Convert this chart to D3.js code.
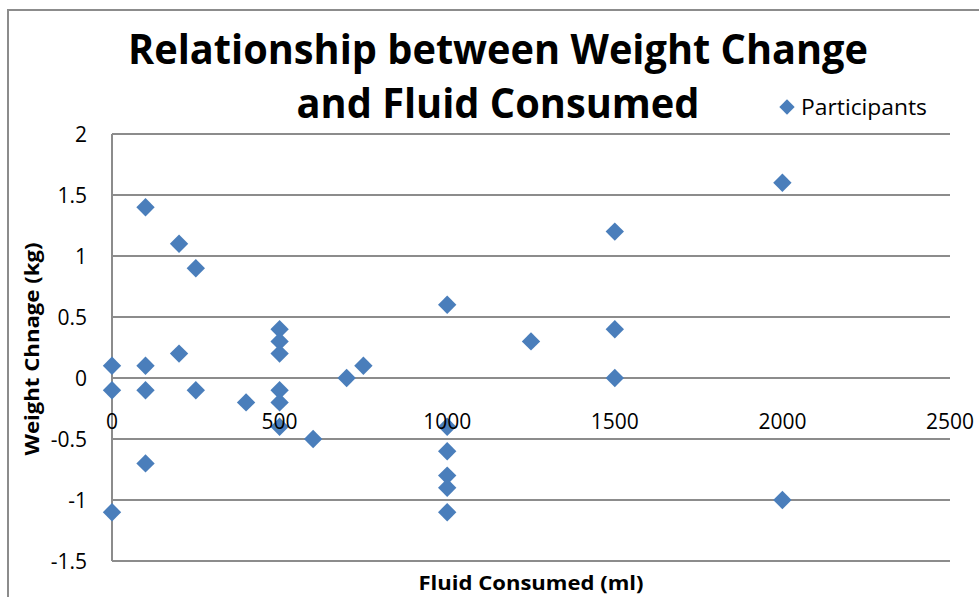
<!DOCTYPE html>
<html><head><meta charset="utf-8">
<script src="https://cdn.jsdelivr.net/npm/d3@7"></script>
<style>html,body{margin:0;padding:0;background:#fff;}svg{display:block;}</style>
</head><body>
<script>
const fluid = [0,0,0, 100,100,100,100, 200,200, 250,250, 400, 500,500,500,500,500,500, 600, 700, 750, 1000,1000,1000,1000,1000,1000, 1250, 1500,1500,1500, 2000,2000];
const weight = [0.1,-0.1,-1.1, 1.4,0.1,-0.1,-0.7, 1.1,0.2, 0.9,-0.1, -0.2, 0.4,0.3,0.2,-0.1,-0.2,-0.4, -0.5, 0, 0.1, 0.6,-0.4,-0.6,-0.8,-0.9,-1.1, 0.3, 1.2,0.4,0, 1.6,-1.0];
const xTicks = [0,500,1000,1500,2000,2500];
const yTicks = [-1.5,-1,-0.5,0,0.5,1,1.5,2];
const seriesName = "Participants";
const titleLines = ["Relationship between Weight Change", "and Fluid Consumed"];
const xTitle = "Fluid Consumed (ml)";
const yTitle = "Weight Chnage (kg)";

const W = 979, H = 597;
const svg = d3.select("body").append("svg").attr("width", W).attr("height", H);
const font = "'Open Sans', sans-serif";
const grid = "#8c8c8c";
const blue = "#4a7ebb";

// chart border
svg.append("rect").attr("x", 8).attr("y", 10).attr("width", W + 20).attr("height", H + 20)
  .attr("fill", "none").attr("stroke", grid).attr("stroke-width", 2);

const x = d3.scaleLinear().domain([0, 2500]).range([112, 950]);
const y = d3.scaleLinear().domain([-1.5, 2]).range([561, 134]);

// gridlines
svg.append("g").selectAll("line").data(yTicks).join("line")
  .attr("x1", x(0)).attr("x2", x(2500))
  .attr("y1", d => y(d)).attr("y2", d => y(d))
  .attr("stroke", grid).attr("stroke-width", 2);

// y axis line
svg.append("line").attr("x1", x(0)).attr("x2", x(0)).attr("y1", y(2)).attr("y2", y(-1.5))
  .attr("stroke", grid).attr("stroke-width", 2);

// points
const diamond = d3.symbol().type(d3.symbolDiamond2).size(215);
svg.append("g").selectAll("path").data(fluid.map((f, i) => [f, weight[i]])).join("path")
  .attr("d", diamond)
  .attr("transform", d => `translate(${x(d[0])},${y(d[1])})`)
  .attr("fill", blue);

// y tick labels
svg.append("g").selectAll("text").data(yTicks).join("text")
  .attr("x", 87).attr("y", d => y(d)).attr("dy", "0.36em")
  .attr("text-anchor", "end").attr("font-family", font).attr("font-size", 21)
  .attr("fill", "#000").text(d => String(d));

// x tick labels (next to axis at y=0)
svg.append("g").selectAll("text").data(xTicks).join("text")
  .attr("x", d => x(d)).attr("y", y(0) + 51)
  .attr("text-anchor", "middle").attr("font-family", font).attr("font-size", 21)
  .attr("fill", "#000").text(d => String(d));

// title
svg.append("g").selectAll("text").data(titleLines).join("text")
  .attr("x", 498).attr("y", (d, i) => 64 + i * 54)
  .attr("text-anchor", "middle").attr("font-family", font).attr("font-weight", "bold")
  .attr("font-size", 41)
  .attr("textLength", (d, i) => i === 0 ? 740 : 403).attr("lengthAdjust", "spacingAndGlyphs")
  .attr("fill", "#000").text(d => d);

// legend
svg.append("path").attr("d", d3.symbol().type(d3.symbolDiamond2).size(150))
  .attr("transform", "translate(787,107)").attr("fill", blue);
svg.append("text").attr("x", 801).attr("y", 115).attr("font-family", font).attr("font-size", 22)
  .attr("textLength", 126).attr("lengthAdjust", "spacingAndGlyphs")
  .attr("fill", "#000").text(seriesName);

// axis titles
svg.append("text").attr("x", 531).attr("y", 590).attr("text-anchor", "middle")
  .attr("font-family", font).attr("font-weight", "bold").attr("font-size", 20)
  .attr("textLength", 225).attr("lengthAdjust", "spacingAndGlyphs")
  .attr("fill", "#000").text(xTitle);
svg.append("text").attr("transform", "translate(39,349) rotate(-90)").attr("text-anchor", "middle")
  .attr("font-family", font).attr("font-weight", "bold").attr("font-size", 20)
  .attr("textLength", 213).attr("lengthAdjust", "spacingAndGlyphs")
  .attr("fill", "#000").text(yTitle);
</script>
</body></html>
